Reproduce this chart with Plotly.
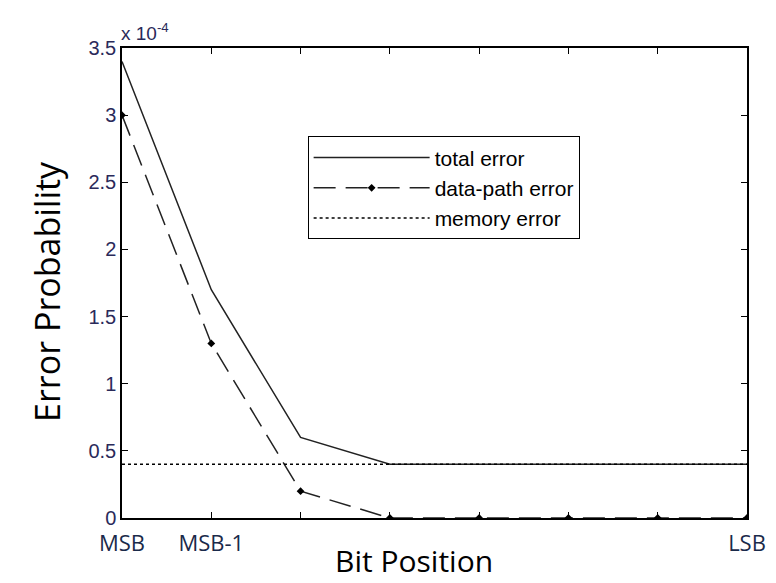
import plotly.graph_objects as go

bit_labels = ["MSB", "MSB-1", "", "", "", "", "", "LSB"]
bit_pos = [0, 1, 2, 3, 4, 5, 6, 7]
total_error = [3.4e-4, 1.7e-4, 0.6e-4, 0.4e-4, 0.4e-4, 0.4e-4, 0.4e-4, 0.4e-4]
datapath_error = [3.0e-4, 1.3e-4, 0.2e-4, 0.0, 0.0, 0.0, 0.0, 0.0]
memory_error = [0.4e-4] * 8
y_ticks = [0, 0.5e-4, 1e-4, 1.5e-4, 2e-4, 2.5e-4, 3e-4, 3.5e-4]
y_tick_text = ["0", "0.5", "1", "1.5", "2", "2.5", "3", "3.5"]

fig = go.Figure()
fig.add_trace(go.Scatter(x=bit_pos, y=total_error, mode="lines", name="total error",
                         line=dict(color="#222", width=1.5)))
fig.add_trace(go.Scatter(x=bit_pos, y=datapath_error, mode="lines+markers", name="data-path error",
                         line=dict(color="#222", width=1.5, dash="22px,10px"),
                         marker=dict(symbol="diamond", size=6, color="black")))
fig.add_trace(go.Scatter(x=bit_pos, y=memory_error, mode="lines", name="memory error",
                         line=dict(color="black", width=1.5, dash="3px,3px")))

fig.update_layout(
    width=776, height=583,
    margin=dict(l=122, r=29, t=48, b=65),
    paper_bgcolor="white", plot_bgcolor="white",
    showlegend=True,
    legend=dict(x=0.297, y=0.812, xanchor="left", yanchor="top",
                bordercolor="black", borderwidth=1, bgcolor="white",
                font=dict(family="Liberation Sans, Arial", size=21, color="black"),
                traceorder="normal", itemwidth=116, tracegroupgap=0),
    font=dict(family="Liberation Sans, Arial", color="black"),
)

fig.update_xaxes(range=[0, 7], tickvals=bit_pos, ticktext=bit_labels,
                 ticks="inside", ticklen=6, tickcolor="black", mirror="ticks",
                 showline=True, linecolor="black", linewidth=1.5, showgrid=False, zeroline=False,
                 ticklabelstandoff=5, automargin=False,
                 tickfont=dict(family="Open Sans, Noto Sans", size=22, color="#1a2a4a"))
fig.update_yaxes(range=[0, 3.5e-4], tickvals=y_ticks, ticktext=y_tick_text,
                 ticks="inside", ticklen=6, tickcolor="black", mirror="ticks",
                 showline=True, linecolor="black", linewidth=1.5, showgrid=False, zeroline=False,
                 automargin=False,
                 tickfont=dict(family="Liberation Sans, Arial", size=20, color="#2a2a5a"))

fig.add_annotation(x=0.467, y=-0.09, xref="paper", yref="paper", xanchor="center", yanchor="middle",
                   showarrow=False, text="Bit Position", borderpad=0,
                   font=dict(family="Open Sans, Noto Sans", size=30, color="black"))
fig.add_annotation(x=-0.12, y=0.481, xref="paper", yref="paper", xanchor="center", yanchor="middle",
                   showarrow=False, text="Error Probability", textangle=-90,
                   font=dict(family="Open Sans, Noto Sans", size=34, color="black"))
fig.add_annotation(x=0, y=1, xref="paper", yref="paper", xanchor="left", yanchor="bottom",
                   xshift=-3, yshift=2, showarrow=False,
                   text="x 10<sup>-4</sup>", font=dict(family="Liberation Sans, Arial", size=19, color="#2a2a5a"))

fig.write_html("out.html")
